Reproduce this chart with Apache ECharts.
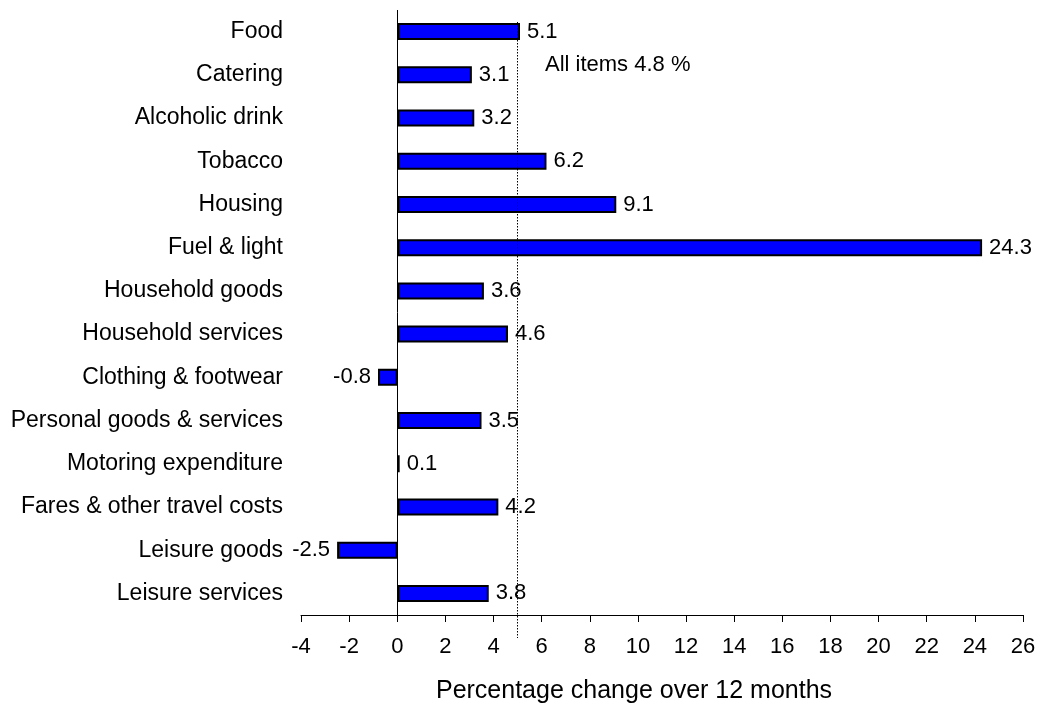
<!DOCTYPE html>
<html>
<head>
<meta charset="utf-8">
<script src="https://cdn.jsdelivr.net/npm/echarts@6/dist/echarts.min.js"></script>
<style>html,body{margin:0;padding:0;background:#fff}#c{width:1040px;height:704px}</style>
</head>
<body>
<div id="c"></div>
<script>
const categories = ['Food','Catering','Alcoholic drink','Tobacco','Housing','Fuel & light','Household goods','Household services','Clothing & footwear','Personal goods & services','Motoring expenditure','Fares & other travel costs','Leisure goods','Leisure services'];
const values = [5.1, 3.1, 3.2, 6.2, 9.1, 24.3, 3.6, 4.6, -0.8, 3.5, 0.1, 4.2, -2.5, 3.8];
const allItemsLabel = 'All items 4.8 %';
const allItemsLinePos = 5.0;
const xMin = -4, xMax = 26, xStep = 2;
const axisTitle = 'Percentage change over 12 months';

const FONT = 'Liberation Sans, Arial, sans-serif';
const barData = values.map(v => v < 0 ? { value: v, label: { position: 'left' } } : v);

const chart = echarts.init(document.getElementById('c'));
chart.setOption({
  animation: false,
  backgroundColor: '#fff',
  grid: { left: 301, right: 17, top: 10, bottom: 89, containLabel: false },
  xAxis: {
    type: 'value', min: xMin, max: xMax, interval: xStep,
    axisLine: { show: true, onZero: false, lineStyle: { color: '#000', width: 1 } },
    axisTick: { show: true, inside: false, length: 7, lineStyle: { color: '#000' } },
    axisLabel: { color: '#000', fontSize: 22, fontFamily: FONT, margin: 21 },
    splitLine: { show: false }
  },
  yAxis: {
    type: 'category', data: categories, inverse: true,
    axisLine: { show: false },
    axisTick: { show: false },
    axisLabel: { color: '#000', fontSize: 23, fontFamily: FONT, margin: 18 }
  },
  graphic: [
    { type: 'text', x: 545, y: 65, style: { text: allItemsLabel, fill: '#000', font: '22px ' + FONT, verticalAlign: 'middle' } },
    { type: 'text', x: 634, y: 691, style: { text: axisTitle, fill: '#000', font: '25px ' + FONT, align: 'center', verticalAlign: 'middle' } }
  ],
  series: [{
    type: 'bar',
    data: barData,
    barWidth: 17,
    itemStyle: { color: '#0000ff', borderColor: '#000', borderWidth: 2 },
    label: {
      show: true, position: 'right', distance: 7, color: '#000',
      fontSize: 22, fontFamily: FONT,
      formatter: p => String(p.value)
    },
    markLine: {
      silent: true, symbol: 'none', animation: false,
      label: { show: false },
      data: [
        [{ xAxis: 0, yAxis: categories[0], y: 10, lineStyle: { color: '#000', width: 1, type: 'solid' } },
         { xAxis: 0, yAxis: categories[0], y: 615 }],
        [{ xAxis: allItemsLinePos, yAxis: categories[0], y: 22, lineStyle: { color: '#000', width: 1, type: [1.5, 1.5] } },
         { xAxis: allItemsLinePos, yAxis: categories[0], y: 638 }]
      ]
    }
  }]
});
</script>
</body>
</html>
